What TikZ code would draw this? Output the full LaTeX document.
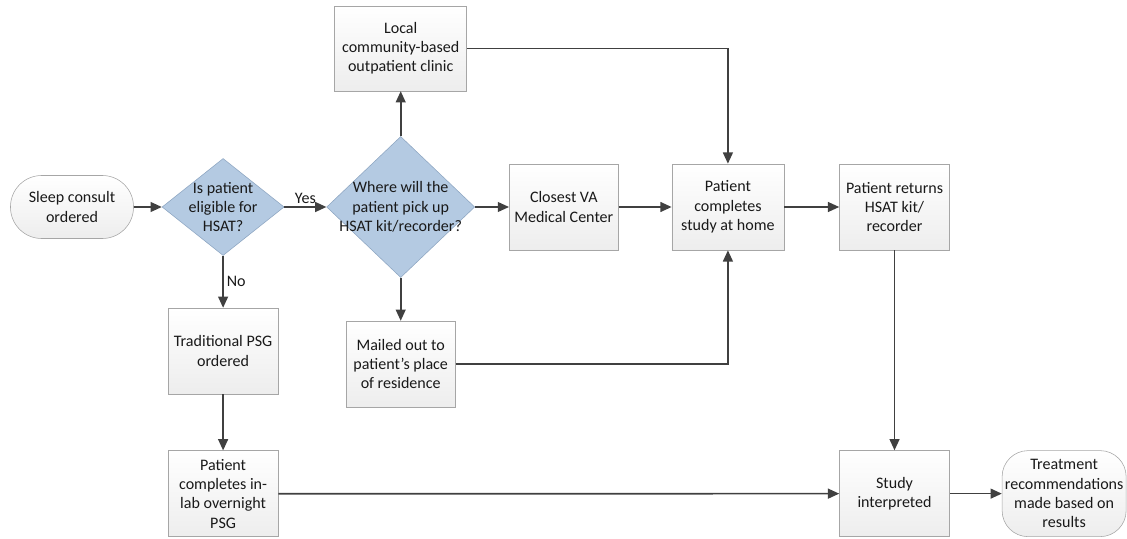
\documentclass[tikz,border=0pt]{standalone}
\usepackage{fontspec}
\setmainfont{Carlito}
\usetikzlibrary{shapes.geometric, arrows.meta, positioning}
\definecolor{boxline}{HTML}{A6A6A6}
\definecolor{decfill}{HTML}{B4CAE2}
\definecolor{decline}{HTML}{8EA6C2}
\definecolor{arrowgray}{HTML}{404040}

\begin{document}
\begin{tikzpicture}[
    x=0.025cm, y=-0.025cm,
    font=\fontsize{11.4}{13.7}\selectfont,
    box/.style={draw=boxline, top color=white, bottom color=black!7, text=black!90, minimum width=2.75cm, minimum height=2.15cm, align=center, inner sep=2pt},
    term/.style={box, rounded corners=0.78cm},
    decision/.style={diamond, draw=decline, fill=decfill, text=black!90, align=center, inner sep=-8pt},
    arr/.style={-{Triangle[length=8pt, width=7pt]}, line width=1.2pt, draw=arrowgray},
    lbl/.style={text=black!90, inner sep=2pt},
]
\useasboundingbox (0,0) rectangle (1127,539);

% Main row
\node[term, minimum width=3.075cm, minimum height=1.575cm] (sleep) at (72,207) {Sleep consult\\ordered};
\node[decision, minimum width=3.05cm, minimum height=2.425cm, right=0.7cm of sleep] (eligible) {Is patient\\eligible for\\HSAT?};
\node[decision, minimum width=3.7cm, minimum height=3.525cm, right=1.05cm of eligible] (pickup) {Where will the\\patient pick up\\HSAT kit/recorder?};
\node[box, minimum width=2.725cm, right=0.85cm of pickup] (vamc) {Closest VA\\Medical Center};
\node[box, minimum width=2.8cm, right=1.325cm of vamc] (home) {Patient\\completes\\study at home};
\node[box, right=1.375cm of home] (returns) {Patient returns\\HSAT kit/\\recorder};

% Pick-up options
\node[box, minimum width=3.3cm, minimum height=2.125cm, above=1.125cm of pickup] (local) {Local\\community-based\\outpatient clinic};
\node[box, minimum width=2.725cm, below=1.075cm of pickup] (mailed) {Mailed out to\\patient’s place\\of residence};

% PSG branch
\node[box, below=1.3cm of eligible] (trad) {Traditional PSG\\ordered};
\node[box, below=1.4cm of trad] (inlab) {Patient\\completes in-\\lab overnight\\PSG};

% Results
\node[box, below=5cm of returns] (interp) {Study\\interpreted};
\node[term, minimum width=3.1cm, inner sep=0pt, rounded corners=0.65cm, right=1.3cm of interp] (treat) {Treatment\\recommendations\\made based on\\results};

\draw[arr] (sleep) -- (eligible);
\draw[arr] (eligible) -- node[lbl, above] {Yes} (pickup);
\draw[arr] (eligible) -- node[lbl, right] {No} (trad);
\draw[arr] (pickup) -- (local);
\draw[arr] (pickup) -- (vamc);
\draw[arr] (pickup) -- (mailed);
\draw[arr] (vamc) -- (home);
\draw[arr] (local) -| (home);
\draw[arr] (mailed) -| (home);
\draw[arr] (home) -- (returns);
\draw[arr] (returns) -- (interp);
\draw[arr] (trad) -- (inlab);
\draw[arr] (inlab) -- (interp);
\draw[arr] (interp) -- (treat);

\end{tikzpicture}
\end{document}
